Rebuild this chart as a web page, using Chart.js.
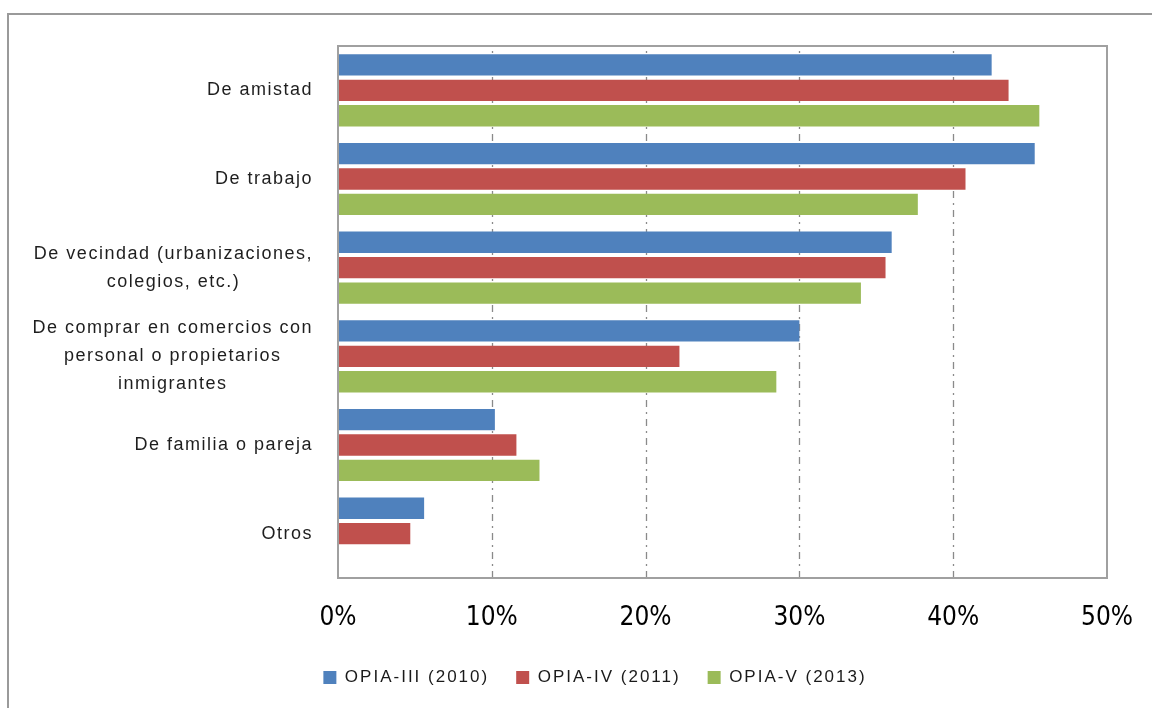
<!DOCTYPE html>
<html>
<head>
<meta charset="utf-8">
<script src="https://cdn.jsdelivr.net/npm/chart.js@4/dist/chart.umd.min.js"></script>
<style>
  html, body { margin: 0; padding: 0; background: #ffffff; }
  #wrap { width: 1152px; height: 708px; position: relative; }
</style>
</head>
<body>
<div id="wrap"><canvas id="c" width="1152" height="708"></canvas></div>
<script>
// Categories (multi-line labels as arrays of lines)
const categories = [
  'De amistad',
  'De trabajo',
  ['De vecindad (urbanizaciones,', 'colegios, etc.)'],
  ['De comprar en comercios con', 'personal o propietarios', 'inmigrantes'],
  'De familia o pareja',
  'Otros'
];

// Series (percent of respondents)
const seriesNames = ['OPIA-III (2010)', 'OPIA-IV (2011)', 'OPIA-V (2013)'];
const opia3 = [42.5, 45.3, 36.0, 30.0, 10.2, 5.6];
const opia4 = [43.6, 40.8, 35.6, 22.2, 11.6, 4.7];
const opia5 = [45.6, 37.7, 34.0, 28.5, 13.1, null];

// Axis ticks
const xTicks = [0, 10, 20, 30, 40, 50];

const colors = ['#4F81BD', '#C0504D', '#9BBB59'];

const LABEL_FONT = '"Liberation Sans", "DejaVu Sans", sans-serif';
const TICK_FONT = '"DejaVu Sans Condensed", "Liberation Sans Narrow", "Liberation Sans", sans-serif';

// Frame, gridlines, plot border and category labels
const decor = {
  id: 'decor',
  beforeUpdate(chart) { chart.ctx.letterSpacing = '2px'; },
  beforeDraw(chart) {
    const ctx = chart.ctx;
    ctx.letterSpacing = '2px';   // legend text is drawn with wide tracking
    ctx.save();
    ctx.strokeStyle = '#9a9a9a';
    ctx.lineWidth = 2;
    ctx.beginPath();
    ctx.moveTo(8, 708);
    ctx.lineTo(8, 14);
    ctx.lineTo(1152, 14);
    ctx.stroke();
    ctx.restore();
  },
  beforeDatasetsDraw(chart) {
    const ctx = chart.ctx, a = chart.chartArea, xs = chart.scales.x;
    ctx.save();
    ctx.strokeStyle = '#8a8a8a';
    ctx.lineWidth = 1.3;
    ctx.setLineDash([7, 5, 2, 5]);
    xs.ticks.forEach(t => {
      if (t.value <= xs.min || t.value >= xs.max) return;
      const px = Math.round(xs.getPixelForValue(t.value)) + 0.5;
      ctx.beginPath();
      ctx.moveTo(px, a.bottom);
      ctx.lineTo(px, a.top);
      ctx.stroke();
    });
    ctx.restore();
  },
  afterDatasetsDraw(chart) {
    const ctx = chart.ctx, a = chart.chartArea;
    ctx.letterSpacing = '0px';   // percentage ticks (z = 1) use normal tracking
    ctx.save();
    ctx.strokeStyle = '#a0a0a0';
    ctx.lineWidth = 2;
    ctx.strokeRect(a.left, a.top, a.right - a.left, a.bottom - a.top);
    ctx.restore();

    // category labels: block right-aligned, lines centred within the block
    const ys = chart.scales.y;
    ctx.save();
    ctx.font = '18px ' + LABEL_FONT;
    ctx.letterSpacing = '1.5px';
    ctx.fillStyle = '#1e1e1e';
    ctx.textAlign = 'center';
    ctx.textBaseline = 'middle';
    categories.forEach((lab, i) => {
      const lines = Array.isArray(lab) ? lab : [lab];
      const w = Math.max(...lines.map(l => ctx.measureText(l).width));
      const cx = a.left - 25 - w / 2;
      const cy = ys.getPixelForValue(i);
      lines.forEach((l, j) => {
        ctx.fillText(l, cx, cy + (j - (lines.length - 1) / 2) * 28);
      });
    });
    ctx.restore();
  }
};

new Chart(document.getElementById('c'), {
  type: 'bar',
  data: {
    labels: categories,
    datasets: [opia3, opia4, opia5].map((d, i) => ({
      label: seriesNames[i],
      data: d,
      backgroundColor: colors[i],
      borderWidth: 0,
      categoryPercentage: 0.86,
      barPercentage: 0.84
    }))
  },
  options: {
    indexAxis: 'y',
    responsive: false,
    animation: false,
    layout: { padding: { left: 83, top: 46, right: 45, bottom: 12 } },
    scales: {
      x: {
        min: 0, max: 50,
        afterBuildTicks(scale) { scale.ticks = xTicks.map(v => ({ value: v })); },
        afterFit(scale) {
          scale.height = 64;
          scale.paddingLeft = 0;
          scale.paddingRight = 0;
        },
        grid: { display: false, drawTicks: false },
        border: { display: false },
        ticks: {
          z: 1,
          padding: 25,
          color: '#000000',
          font: { size: 26, family: TICK_FONT },
          callback: v => v + '%'
        }
      },
      y: {
        afterFit(scale) { scale.width = 255; },
        grid: { display: false },
        border: { display: false },
        ticks: { display: false }
      }
    },
    plugins: {
      legend: {
        position: 'bottom',
        labels: {
          boxWidth: 13,
          boxHeight: 13,
          padding: 27,
          color: '#1a1a1a',
          font: { size: 17, family: LABEL_FONT }
        }
      },
      tooltip: { enabled: false }
    }
  },
  plugins: [decor]
});
</script>
</body>
</html>
